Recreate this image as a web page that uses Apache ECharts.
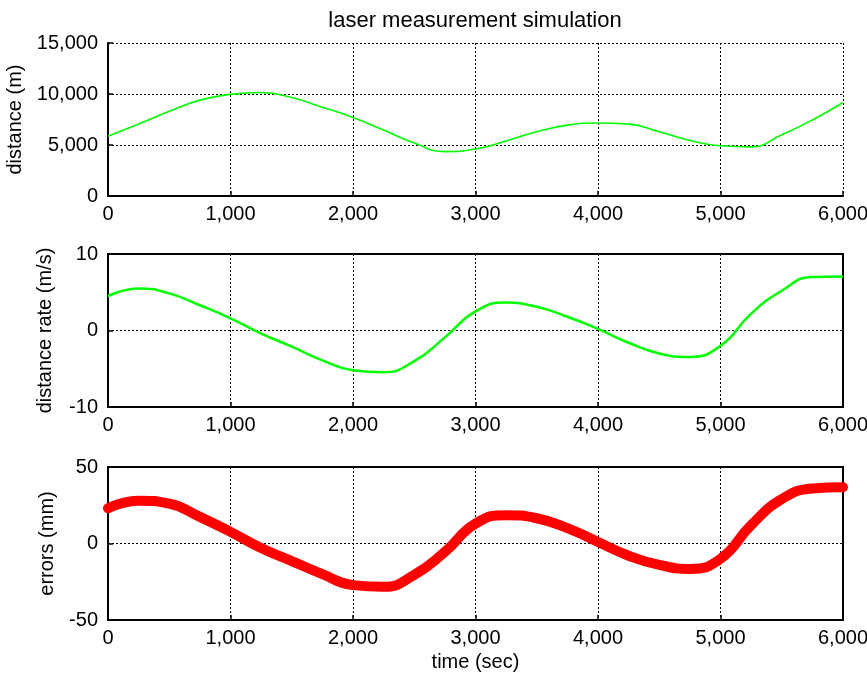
<!DOCTYPE html>
<html>
<head>
<meta charset="utf-8">
<script src="https://cdn.jsdelivr.net/npm/echarts@6/dist/echarts.min.js"></script>
<style>
  html, body { margin: 0; padding: 0; background: #fff; }
  #main { width: 867px; height: 680px; }
</style>
</head>
<body>
<div id="main"></div>
<script>
// time axis (sec), one sample every 250 s
const timeSec = [0, 250, 500, 750, 1000, 1250, 1500, 1750, 2000, 2250, 2500, 2750, 3000,
  3250, 3500, 3750, 4000, 4250, 4500, 4750, 5000, 5250, 5500, 5750, 6000];
// distance (m)
const distance = [5850, 7050, 8300, 9400, 9960, 10150, 9650, 8700, 7700, 6460, 5200, 4350, 4600,
  5400, 6300, 6950, 7150, 7050, 6300, 5450, 4920, 4820, 6000, 7450, 9170];
// distance rate (m/s)
const distanceRate = [4.5, 5.5, 4.85, 3.3, 1.6, -0.4, -2.1, -3.9, -5.2, -5.45, -4.0, -0.9, 2.5,
  3.65, 3.1, 1.8, 0.2, -1.6, -3.0, -3.45, -2.0, 2.2, 5.2, 7.0, 7.05];
// errors (mm)
const errors = [23, 28, 26, 17.4, 7.6, -3, -11.5, -20, -27.2, -28.3, -20.5, -5.5, 13,
  18.5, 16.5, 10, 1, -8, -14, -16.6, -10, 12, 29, 36, 36.8];

const xTicks = { min: 0, max: 6000, interval: 1000 };

const chart = echarts.init(document.getElementById('main'));

const font = 'Liberation Sans, Arial, sans-serif';
const pairs = arr => timeSec.map((t, i) => [t, arr[i]]);
const dotted = { show: true, lineStyle: { color: '#000', width: 1, type: [2, 2] } };

function xAxis(idx, withName) {
  return {
    type: 'value', gridIndex: idx,
    min: xTicks.min, max: xTicks.max, interval: xTicks.interval,
    axisLine: { show: true, onZero: false, lineStyle: { color: '#000', width: 2 } },
    axisTick: { show: true, inside: true, length: 5, lineStyle: { color: '#000', width: 1.5 } },
    axisLabel: { color: '#000', fontSize: 20, fontFamily: font, margin: 8,
      formatter: v => v.toLocaleString('en-US') },
    splitLine: dotted,
    name: withName ? 'time (sec)' : '',
    nameLocation: 'middle', nameGap: 32,
    nameTextStyle: { color: '#000', fontSize: 20, fontFamily: font }
  };
}

function yAxis(idx, name, min, max, interval, gap) {
  return {
    type: 'value', gridIndex: idx, min, max, interval,
    axisLine: { show: true, onZero: false, lineStyle: { color: '#000', width: 2 } },
    axisTick: { show: true, inside: true, length: 5, lineStyle: { color: '#000', width: 1.5 } },
    axisLabel: { color: '#000', fontSize: 20, fontFamily: font, margin: 10,
      formatter: v => v.toLocaleString('en-US') },
    splitLine: dotted,
    name, nameLocation: 'middle', nameRotate: 90, nameGap: gap,
    nameTextStyle: { color: '#000', fontSize: 20, fontFamily: font }
  };
}

const gridBase = { left: 108, right: 24, height: 153, outerBoundsMode: 'none', containLabel: false };

const option = {
  backgroundColor: '#fff',
  animation: false,
  title: {
    text: 'laser measurement simulation',
    left: 470, top: 5, textAlign: 'center',
    textStyle: { color: '#000', fontSize: 22, fontWeight: 'normal', fontFamily: font }
  },
  grid: [
    Object.assign({}, gridBase, { top: 43 }),
    Object.assign({}, gridBase, { top: 254, show: true, borderColor: '#000', borderWidth: 2 }),
    Object.assign({}, gridBase, { top: 467, show: true, borderColor: '#000', borderWidth: 2 })
  ],
  xAxis: [xAxis(0, false), xAxis(1, false), xAxis(2, true)],
  yAxis: [
    yAxis(0, 'distance (m)', 0, 15000, 5000, 81),
    yAxis(1, 'distance rate (m/s)', -10, 10, 10, 53),
    yAxis(2, 'errors (mm)', -50, 50, 50, 51)
  ],
  series: [
    {
      type: 'line', xAxisIndex: 0, yAxisIndex: 0, data: pairs(distance),
      showSymbol: false, smooth: 0.5,
      lineStyle: { color: '#00ff00', width: 1.6 }
    },
    {
      type: 'line', xAxisIndex: 1, yAxisIndex: 1, data: pairs(distanceRate),
      showSymbol: false, smooth: 0.5,
      lineStyle: { color: '#00ff00', width: 2.5 }
    },
    {
      type: 'line', xAxisIndex: 2, yAxisIndex: 2, data: pairs(errors),
      showSymbol: false, smooth: 0.5,
      lineStyle: { color: '#ff0000', width: 10, cap: 'round', join: 'round' }
    }
  ]
};

chart.setOption(option);
</script>
</body>
</html>
